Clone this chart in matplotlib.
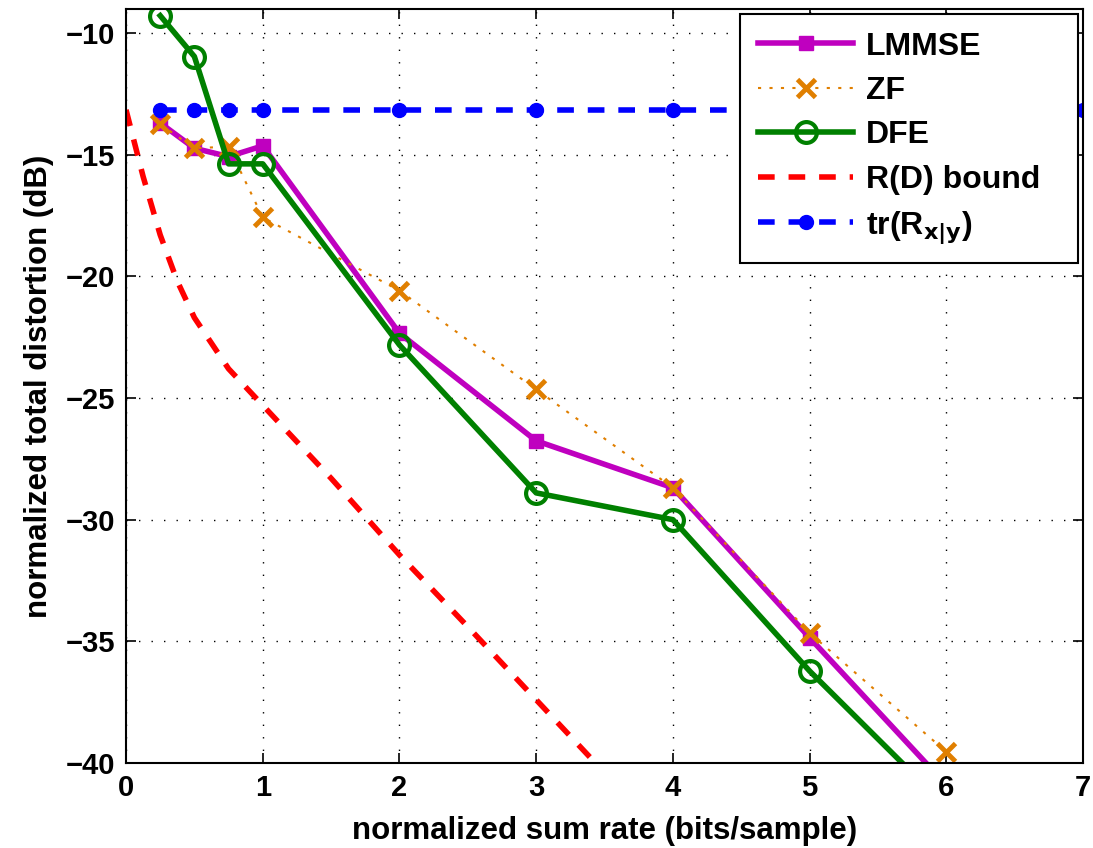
import numpy as np
import matplotlib
matplotlib.use("Agg")
import matplotlib.pyplot as plt

plt.rcParams['font.family'] = ['Liberation Sans', 'DejaVu Sans']
plt.rcParams['font.weight'] = 'bold'

# rates (bits/sample)
rate = [0.25, 0.5, 0.75, 1, 2, 3, 4, 5, 6]
lmmse = [-13.7, -14.74, -15.08, -14.64, -22.34, -26.76, -28.69, -34.85, -40.9]
zf = [-13.75, -14.74, -14.67, -17.58, -20.59, -24.65, -28.69, -34.66, -39.54]
dfe = [-9.29, -10.97, -15.38, -15.38, -22.82, -28.9, -30.0, -36.22, -41.8]

rd_rate = [0, 0.125, 0.25, 0.375, 0.5, 0.75, 1, 1.25, 1.5, 2, 2.5, 3, 3.5]
rd_bound = [-13.16, -15.9, -18.3, -20.2, -21.7, -23.8, -25.3, -26.8, -28.3, -31.45, -34.4, -37.4, -40.4]

tr_rate = [0.25, 0.5, 0.75, 1, 2, 3, 4, 5, 6, 7]
tr_rxy = [-13.16] * len(tr_rate)

fig = plt.figure(figsize=(10.93, 8.48), dpi=100)
ax = fig.add_axes([0.1153, 0.1002, 0.8756, 0.8888])

ax.plot(rate, lmmse, color='#BF00BF', lw=4, marker='s', ms=10, label='LMMSE')
ax.plot(rate, zf, color='#E07F00', lw=1.5, ls=(0, (1.5, 4)), marker='x', ms=13, mew=3.5, label='ZF')
ax.plot(rate, dfe, color='#008000', lw=4, marker='o', ms=15, mew=3, mfc='none', label='DFE')
ax.plot(rd_rate, rd_bound, color='red', lw=4, ls=(0, (3, 2.5)), label='R(D) bound')
ax.plot(tr_rate, tr_rxy, color='blue', lw=4, ls=(0, (3, 2.5)), marker='o', ms=10,
        label=r'tr(R$_{\mathbf{x|y}}$)')

ax.set_xlim(0, 7)
ax.set_ylim(-40, -9.03)
ax.set_xticks(range(0, 8))
ax.set_yticks([-40, -35, -30, -25, -20, -15, -10])
ax.tick_params(direction='in', top=True, right=True, length=7, width=1.2, labelsize=21, pad=8)
for s in ax.spines.values():
    s.set_linewidth(1.5)
ax.grid(True, color='black', ls=(0, (1, 8)), lw=1.0)

ax.set_xlabel('normalized sum rate (bits/sample)', fontsize=22.5, fontweight='bold', labelpad=10)
ax.set_ylabel('normalized total distortion (dB)', fontsize=22.5, fontweight='bold', labelpad=8)

leg = ax.legend(loc='upper left', bbox_to_anchor=(0.6416, 0.6607, 0.3532, 0.3331), mode='expand',
                fontsize=23, handlelength=3.0, handletextpad=0.4,
                fancybox=False, edgecolor='black', framealpha=1, borderaxespad=0,
                borderpad=0.55, labelspacing=0.45)
leg.get_frame().set_linewidth(1.5)

fig.savefig('out.png', dpi=100)
